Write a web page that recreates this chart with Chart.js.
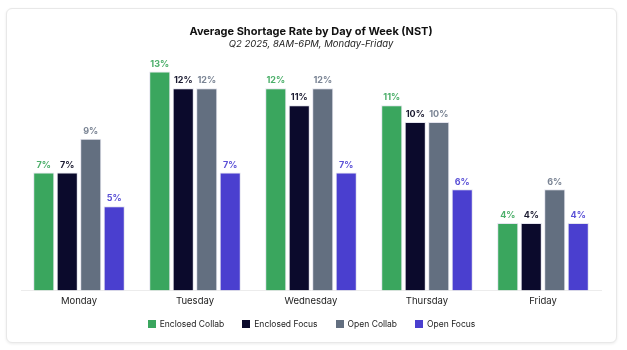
<!DOCTYPE html>
<html>
<head>
<meta charset="utf-8">
<script src="https://cdn.jsdelivr.net/npm/chart.js@4"></script>
<style>
  html, body { margin: 0; padding: 0; background: #fff; }
  .card {
    position: absolute; left: 6px; top: 8px; width: 609px; height: 333px;
    border: 1px solid #e8e8e8; border-radius: 6px;
    box-shadow: 0 1px 3px rgba(0,0,0,0.08);
    background: #fff;
  }
  .card canvas { display: block; }
  #legend {
    position: absolute; left: 0; right: 0; top: 309px; height: 12px;
    display: flex; justify-content: center; gap: 18px;
    font: 8.5px Inter, sans-serif; line-height: 12px; color: #222;
  }
  #legend span.item { display: flex; align-items: center; white-space: nowrap; }
  #legend span.box { width: 8px; height: 8px; margin-right: 4px; }
</style>
</head>
<body>
<div class="card">
  <canvas id="shortageChart" width="609" height="333"></canvas>
  <div id="legend"></div>
</div>
<script>
const days = ['Monday', 'Tuesday', 'Wednesday', 'Thursday', 'Friday'];
const seriesNames = ['Enclosed Collab', 'Enclosed Focus', 'Open Collab', 'Open Focus'];
const enclosedCollab = [7, 13, 12, 11, 4];
const enclosedFocus = [7, 12, 11, 10, 4];
const openCollab = [9, 12, 12, 10, 6];
const openFocus = [5, 7, 7, 6, 4];

const barColors = ['#3aa65e', '#0b0a2c', '#636f80', '#4a3fcf'];
const labelColors = ['#4caf6a', '#1a1a30', '#7a8494', '#5a50d6'];

// value labels above each bar
const barLabels = {
    id: 'barLabels',
    afterDatasetsDraw(chart) {
        const ctx = chart.ctx;
        ctx.save();
        ctx.font = 'bold 9px Inter, "DejaVu Sans", sans-serif';
        ctx.textAlign = 'center';
        ctx.textBaseline = 'bottom';
        chart.data.datasets.forEach((ds, i) => {
            const meta = chart.getDatasetMeta(i);
            ctx.fillStyle = labelColors[i];
            meta.data.forEach((bar, j) => {
                ctx.fillText(ds.data[j] + '%', bar.x, bar.y - 3);
            });
        });
        ctx.restore();
    }
};

// html legend under the chart
function buildLegend(chart) {
    const box = document.getElementById('legend');
    box.innerHTML = '';
    chart.data.datasets.forEach(ds => {
        const item = document.createElement('span');
        item.className = 'item';
        const sw = document.createElement('span');
        sw.className = 'box';
        sw.style.background = ds.backgroundColor;
        item.appendChild(sw);
        item.appendChild(document.createTextNode(ds.label));
        box.appendChild(item);
    });
}

document.addEventListener('DOMContentLoaded', function () {
    const ctx = document.getElementById('shortageChart');
    const seriesData = [enclosedCollab, enclosedFocus, openCollab, openFocus];
    const chart = new Chart(ctx, {
        type: 'bar',
        data: {
            labels: days,
            datasets: seriesNames.map((name, i) => ({
                label: name,
                data: seriesData[i],
                backgroundColor: barColors[i]
            }))
        },
        options: {
            responsive: false,
            animation: false,
            layout: {padding: {left: 14, right: 15, top: 6, bottom: 31}},
            datasets: {
                bar: {
                    categoryPercentage: 0.81,
                    barPercentage: 0.9,
                    borderWidth: 1,
                    borderColor: '#e4e4ee'
                }
            },
            plugins: {
                title: {
                    display: true,
                    text: 'Average Shortage Rate by Day of Week (NST)',
                    color: '#111',
                    font: {family: 'Inter', size: 11, weight: 'bold'},
                    padding: {top: 10, bottom: 0}
                },
                subtitle: {
                    display: true,
                    text: 'Q2 2025, 8AM-6PM, Monday-Friday',
                    color: '#222',
                    font: {family: 'Inter', size: 9.5, style: 'italic'},
                    padding: {top: 0, bottom: 5}
                },
                legend: {display: false},
                tooltip: {enabled: false}
            },
            scales: {
                x: {
                    grid: {display: false, drawTicks: false},
                    border: {display: true, color: '#ececec'},
                    ticks: {color: '#222', font: {family: 'Inter', size: 9.5}, padding: 4.6}
                },
                y: {
                    display: false,
                    min: 0,
                    max: 14
                }
            }
        },
        plugins: [barLabels]
    });
    buildLegend(chart);
});
</script>
</body>
</html>
